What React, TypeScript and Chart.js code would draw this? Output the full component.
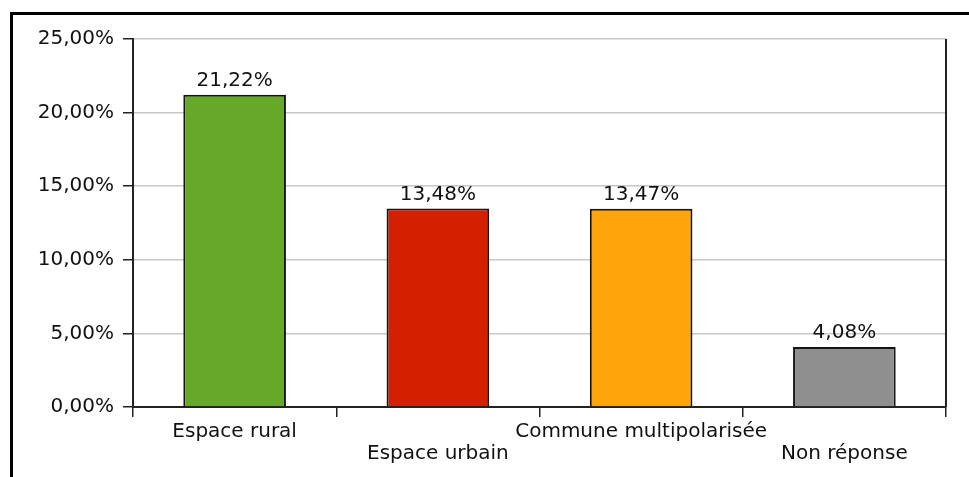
import React, { useEffect, useRef } from "react";
import { Chart, registerables } from "chart.js";

Chart.register(...registerables);

const categories = ["Espace rural", "Espace urbain", "Commune multipolarisée", "Non réponse"];
const values = [21.22, 13.48, 13.47, 4.08];
const barColors = ["#66A827", "#D22000", "#FFA50B", "#8F8F8F"];
const yMin = 0;
const yMax = 25;
const yStep = 5;

const FONT = "'DejaVu Sans', sans-serif";
const TEXT = "#111111";
const fmt = (v: number) => v.toFixed(2).replace(".", ",") + "%";

export default function App() {
  const ref = useRef<HTMLCanvasElement | null>(null);

  useEffect(() => {
    if (!ref.current) return;

    const framePlugin = {
      id: "frame",
      beforeDraw(chart: any) {
        const { ctx, width, height } = chart;
        ctx.save();
        ctx.fillStyle = "#ffffff";
        ctx.fillRect(0, 0, width, height);
        ctx.strokeStyle = "#000000";
        ctx.lineWidth = 3;
        ctx.beginPath();
        ctx.moveTo(11.5, height + 5);
        ctx.lineTo(11.5, 13.5);
        ctx.lineTo(width + 5, 13.5);
        ctx.stroke();
        ctx.restore();
      },
      afterDraw(chart: any) {
        const { ctx, chartArea } = chart;
        ctx.save();
        ctx.strokeStyle = "#222222";
        ctx.lineWidth = 2;
        ctx.beginPath();
        ctx.moveTo(chartArea.right, chartArea.top);
        ctx.lineTo(chartArea.right, chartArea.bottom);
        ctx.stroke();
        ctx.restore();
      },
    };

    const labelPlugin = {
      id: "valueLabels",
      afterDatasetsDraw(chart: any) {
        const { ctx } = chart;
        const meta = chart.getDatasetMeta(0);
        ctx.save();
        ctx.font = `20px ${FONT}`;
        ctx.fillStyle = TEXT;
        ctx.textAlign = "center";
        ctx.textBaseline = "alphabetic";
        meta.data.forEach((bar: any, i: number) => {
          ctx.fillText(fmt(values[i]), bar.x, bar.y - 9);
        });
        ctx.restore();
      },
    };

    const chart = new Chart(ref.current, {
      type: "bar",
      data: {
        labels: categories,
        datasets: [
          {
            data: values,
            backgroundColor: barColors,
            borderColor: "#151515",
            borderWidth: 2,
            categoryPercentage: 1,
            barPercentage: 0.505,
          },
        ],
      },
      options: {
        animation: false,
        responsive: true,
        maintainAspectRatio: false,
        layout: { padding: { left: 0, top: 39, right: 23, bottom: 0 } },
        plugins: {
          legend: { display: false },
          tooltip: { enabled: false },
        },
        scales: {
          x: {
            offset: true,
            afterFit(scale: any) {
              scale.height = 70;
            },
            grid: {
              offset: true,
              drawOnChartArea: false,
              drawTicks: true,
              tickLength: 10,
              color: "#222222",
              lineWidth: 1.5,
            },
            border: { display: true, color: "#222222", width: 2 },
            ticks: {
              autoSkip: false,
              maxRotation: 0,
              minRotation: 0,
              padding: 4,
              color: TEXT,
              font: { family: FONT, size: 20, lineHeight: 1.1 },
              callback: (_v: any, i: number) =>
                i % 2 === 1 ? ["", categories[i]] : categories[i],
            },
          },
          y: {
            min: yMin,
            max: yMax,
            afterFit(scale: any) {
              scale.width = 133;
            },
            grid: {
              color: "#c8c8c8",
              lineWidth: 1.5,
              tickColor: "#222222",
              tickLength: 10,
              drawTicks: true,
            },
            border: { display: true, color: "#222222", width: 2 },
            ticks: {
              stepSize: yStep,
              padding: 9,
              color: TEXT,
              font: { family: FONT, size: 20 },
              callback: (v: any) => fmt(Number(v)),
            },
          },
        },
      },
      plugins: [framePlugin, labelPlugin],
    });

    return () => chart.destroy();
  }, []);

  return (
    <div style={{ position: "absolute", left: 0, top: 0, width: 969, height: 477 }}>
      <canvas ref={ref} />
    </div>
  );
}
